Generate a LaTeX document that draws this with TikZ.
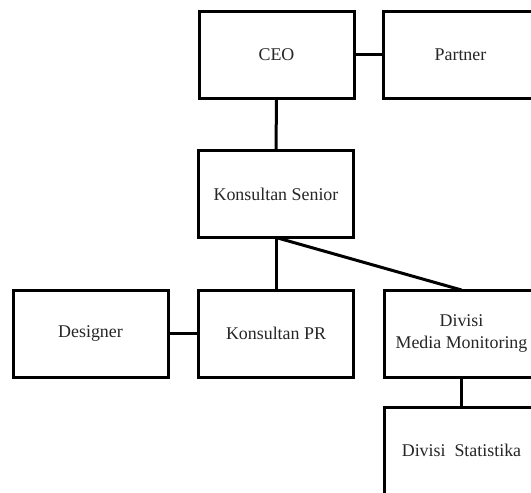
\documentclass[tikz,border=0pt]{standalone}
\usepackage{fontspec}
\setmainfont{Liberation Serif}
\begin{document}
\begin{tikzpicture}[x=1pt,y=-1pt,
  box/.style={draw=black, line width=3pt, fill=white, minimum width=155pt, minimum height=87pt,
    inner sep=0pt, outer sep=0pt, align=center, font=\fontsize{17.9}{21.5}\selectfont, text=black!85},
  link/.style={draw=black, line width=3pt}]
\useasboundingbox (0,0) rectangle (531,493);
\clip (0,0) rectangle (531,493);
\fill[white] (0,0) rectangle (531,493);
\node[box] (ceo) at (276.5,54.5) {CEO};
\node[box] (partner) at (460.5,54.5) {Partner};
\node[box] (ks) at (276,194) {Konsultan Senior};
\node[box] (des) at (90.5,333.5) {Designer};
\node[box] (pr) at (276,333.5) {Konsultan PR};
\node[box] (dmm) at (461.5,333.5) {Divisi\\Media Monitoring};
\node[box] (ds) at (461.5,450.5) {Divisi\enspace Statistika};
\draw[link] (ceo.east) -- (partner.west);
\draw[link] (ceo.south) -- (ks.north);
\draw[link] (ks.south) -- (pr.north);
\draw[link] (ks.south) -- (dmm.north);
\draw[link] (des.east) -- (pr.west);
\draw[link] (dmm.south) -- (ds.north);
\end{tikzpicture}
\end{document}
